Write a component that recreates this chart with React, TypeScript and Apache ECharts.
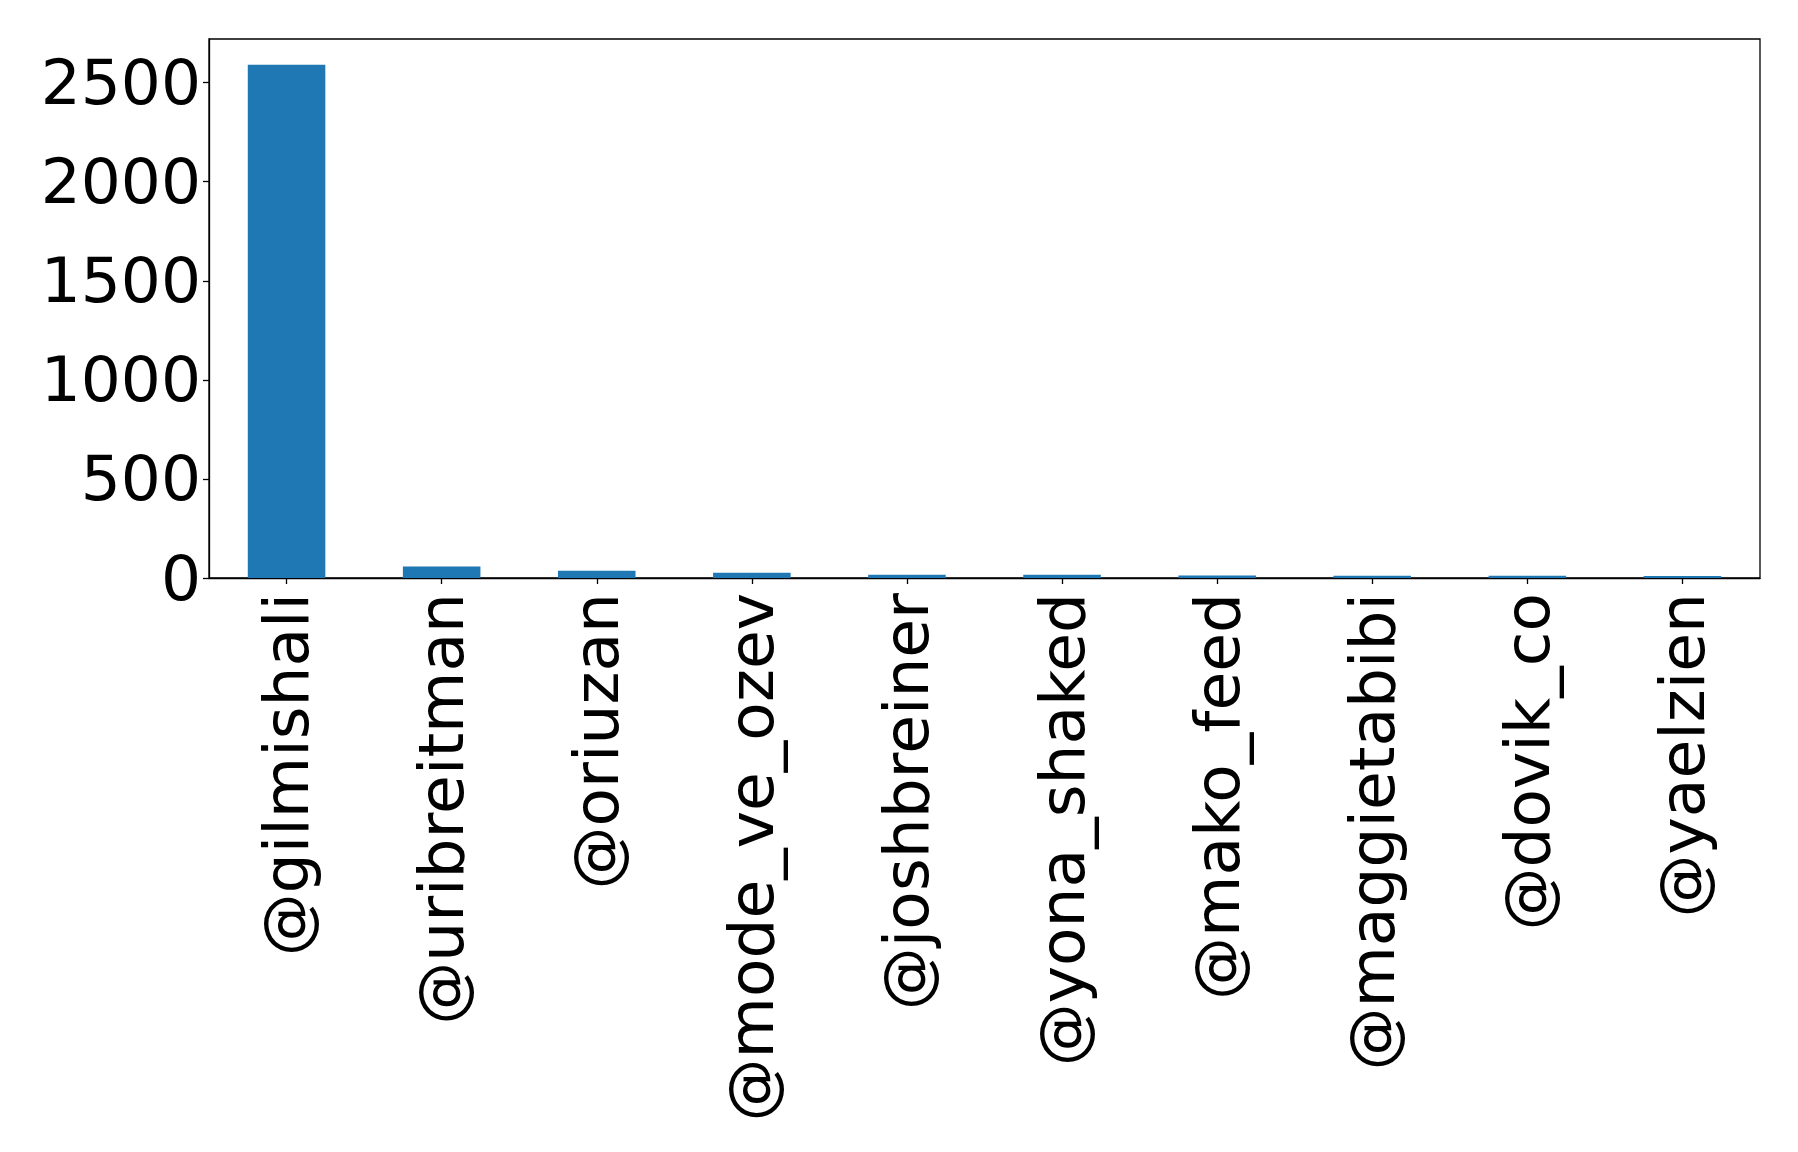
import React, { useEffect, useRef } from "react";
import * as echarts from "echarts";

const categories = [
  "@gilmishali",
  "@uribreitman",
  "@oriuzan",
  "@mode_ve_ozev",
  "@joshbreiner",
  "@yona_shaked",
  "@mako_feed",
  "@maggietabibi",
  "@dovik_co",
  "@yaelzien",
];
const counts = [2590, 58, 37, 27, 17, 17, 12, 11, 11, 10];
const yTicks = [0, 500, 1000, 1500, 2000, 2500];
const yMax = 2720;

export default function App() {
  const ref = useRef<HTMLDivElement>(null);
  useEffect(() => {
    const chart = echarts.init(ref.current!, null, { renderer: "svg" });
    const font = "DejaVu Sans";
    chart.setOption({
      animation: false,
      backgroundColor: "#ffffff",
      grid: {
        left: 209,
        top: 39,
        right: 38,
        bottom: 574,
        show: true,
        borderColor: "#000000",
        borderWidth: 1.3,
        containLabel: false,
      },
      xAxis: {
        type: "category",
        data: categories,
        boundaryGap: true,
        axisLine: { show: true, lineStyle: { color: "#000", width: 1.3 } },
        axisTick: {
          show: true,
          alignWithLabel: true,
          inside: false,
          length: 6,
          lineStyle: { color: "#000", width: 1.3 },
        },
        axisLabel: {
          rotate: 90,
          interval: 0,
          margin: 15,
          color: "#000",
          fontFamily: font,
          fontSize: 63,
        },
        splitLine: { show: false },
      },
      yAxis: {
        type: "value",
        min: 0,
        max: yMax,
        interval: 500,
        axisLine: { show: true, lineStyle: { color: "#000", width: 1.3 } },
        axisTick: {
          show: true,
          length: 6,
          lineStyle: { color: "#000", width: 1.3 },
          customValues: yTicks,
        },
        axisLabel: {
          margin: 8,
          color: "#000",
          fontFamily: font,
          fontSize: 63,
          customValues: yTicks,
          formatter: (v: number) => String(v),
        },
        splitLine: { show: false },
      },
      series: [
        {
          type: "bar",
          data: counts,
          barWidth: "50%",
          itemStyle: { color: "#1f77b4" },
        },
      ],
    });
    return () => chart.dispose();
  }, []);
  return (
    <div
      ref={ref}
      style={{ position: "absolute", left: 0, top: 0, width: 1798, height: 1152, background: "#fff" }}
    />
  );
}
